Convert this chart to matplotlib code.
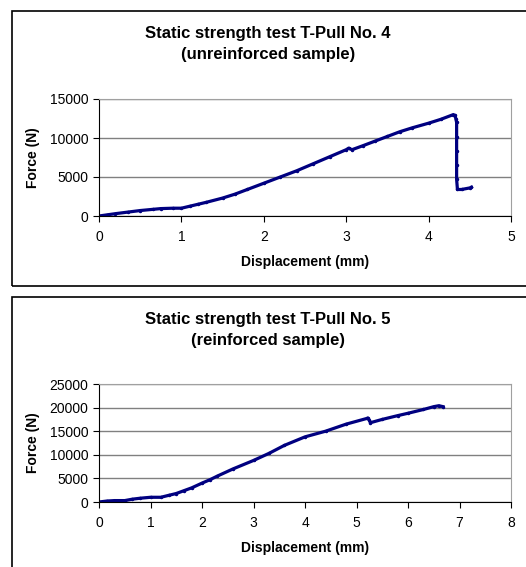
import matplotlib.pyplot as plt
from matplotlib.patches import Rectangle

plt.rcParams['font.family'] = ['Liberation Sans', 'DejaVu Sans']

# T-Pull No. 4 (unreinforced)
disp4 = [0.0, 0.1, 0.2, 0.35, 0.5, 0.65, 0.75, 0.9, 1.0, 1.1, 1.2, 1.3, 1.5, 1.65,
         1.8, 2.0, 2.2, 2.4, 2.6, 2.8, 3.0, 3.03, 3.07, 3.2, 3.35, 3.5, 3.65, 3.8,
         4.0, 4.15, 4.3, 4.32, 4.33, 4.34, 4.34, 4.34, 4.34, 4.34, 4.35, 4.4, 4.5, 4.52]
force4 = [0, 150, 300, 500, 700, 850, 950, 1000, 1000, 1250, 1500, 1750, 2300, 2800,
          3400, 4200, 5000, 5800, 6700, 7600, 8500, 8700, 8500, 9000, 9600, 10200, 10800, 11300,
          11900, 12400, 13000, 12900, 12500, 12000, 10100, 8300, 6500, 4700, 3400, 3400, 3600, 3700]

# T-Pull No. 5 (reinforced)
disp5 = [0.0, 0.15, 0.3, 0.5, 0.65, 0.8, 1.0, 1.2, 1.35, 1.5, 1.65, 1.8, 2.0, 2.15,
         2.3, 2.6, 3.0, 3.3, 3.6, 4.0, 4.4, 4.8, 5.2, 5.22, 5.25, 5.27, 5.5,
         5.8, 6.0, 6.3, 6.5, 6.6, 6.68]
force5 = [0, 200, 300, 300, 600, 800, 1000, 1000, 1400, 1800, 2400, 3000, 4000, 4700,
          5500, 7000, 8800, 10300, 12000, 13800, 15000, 16500, 17700, 17800, 17300, 16800, 17500,
          18300, 18800, 19600, 20200, 20400, 20200]

fig = plt.figure(figsize=(5.26, 5.67), dpi=100)
W, H = 526, 567

# panel frames (right and lower edges run past the figure)
for x0, y0, x1, y1 in [(12, 11, 532, 286), (12, 297, 532, 580)]:
    fig.patches.append(Rectangle((x0 / W, 1 - y1 / H), (x1 - x0) / W, (y1 - y0) / H,
                                 transform=fig.transFigure, fill=False,
                                 edgecolor='black', linewidth=1.2))


def make_panel(ax_rect, x, y, xmax, ymax, title_lines, title_y):
    ax = fig.add_axes(ax_rect)
    ax.plot(x, y, color='#000080', linewidth=2.3, marker='.', markersize=3)
    ax.set_xlim(0, xmax)
    ax.set_ylim(0, ymax)
    ax.set_xticks(range(0, xmax + 1))
    ax.set_yticks(range(0, ymax + 1, 5000))
    ax.yaxis.grid(True, color='#808080', linewidth=1)
    ax.set_axisbelow(True)
    for s in ['top', 'right']:
        ax.spines[s].set_color('#a0a0a0')
    for s in ['left', 'bottom']:
        ax.spines[s].set_color('black')
    ax.tick_params(direction='out', length=4, labelsize=10, width=0.8)
    ax.tick_params(axis='x', pad=6)
    ax.set_xlabel('Displacement (mm)', fontsize=10, fontweight='bold', labelpad=8)
    ax.set_ylabel('Force (N)', fontsize=10, fontweight='bold', labelpad=7)
    fig.text(268 / W, 1 - title_y / H, title_lines, ha='center', va='center',
             fontsize=12, fontweight='bold', linespacing=1.55)
    return ax


make_panel([99 / W, 1 - 216 / H, 412 / W, 117 / H], disp4, force4, 5, 15000,
           'Static strength test T-Pull No. 4\n(unreinforced sample)', 44)
make_panel([99 / W, 1 - 502 / H, 412 / W, 118 / H], disp5, force5, 8, 25000,
           'Static strength test T-Pull No. 5\n(reinforced sample)', 330)

fig.savefig('out.png', dpi=100)
